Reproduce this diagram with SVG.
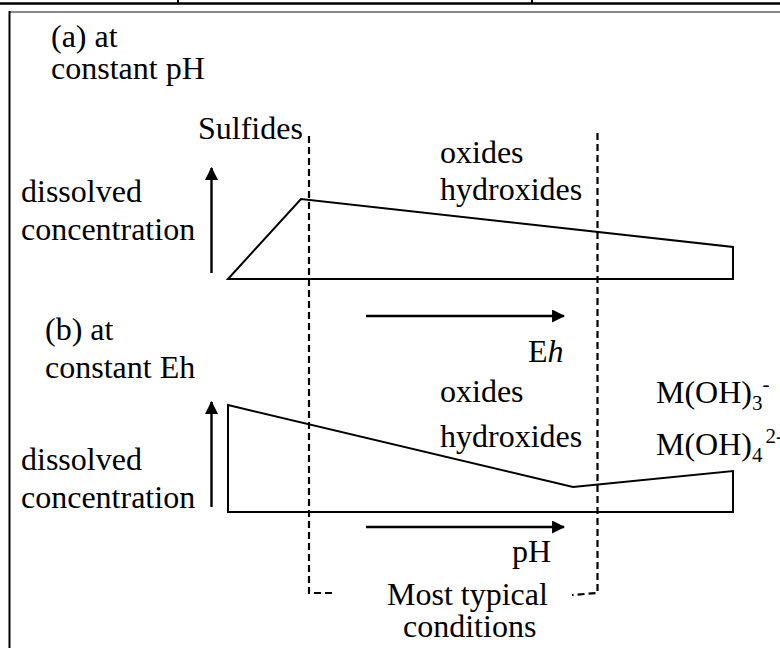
<svg xmlns="http://www.w3.org/2000/svg" width="780" height="648" viewBox="0 0 780 648">
<defs>
<style>
text{font-family:"Liberation Serif","Times New Roman",serif;font-size:32px;fill:#000}
.ln{fill:none;stroke:#000;stroke-width:2;stroke-linejoin:miter}
.ar{fill:none;stroke:#000;stroke-width:2.4}
.ds{fill:none;stroke:#000;stroke-width:2.2;stroke-dasharray:7 4}
.it{font-style:italic}
.sb{font-size:21px}
</style>
<marker id="ah" viewBox="0 0 12 12" refX="11" refY="6" markerWidth="13" markerHeight="13" markerUnits="userSpaceOnUse" orient="auto">
<path d="M0,0 L12,6 L0,12 Z" fill="#000"/>
</marker>
</defs>
<rect width="780" height="648" fill="#fff"/>
<g id="frame">
<line x1="0" y1="3.5" x2="780" y2="3.5" stroke="#000" stroke-width="2.5"/>
<line x1="178" y1="0" x2="178" y2="4" stroke="#000" stroke-width="2"/>
<line x1="532" y1="0" x2="532" y2="4" stroke="#000" stroke-width="2"/>
<line x1="9" y1="12" x2="780" y2="12" stroke="#888" stroke-width="2"/>
<line x1="9.5" y1="11" x2="9.5" y2="648" stroke="#000" stroke-width="2"/>
</g>
<g id="connectors">
<line class="ar" x1="211.5" y1="273" x2="211.5" y2="168" marker-end="url(#ah)"/>
<line class="ar" x1="211.5" y1="507" x2="211.5" y2="402" marker-end="url(#ah)"/>
<line class="ar" x1="366" y1="316" x2="564" y2="316" marker-end="url(#ah)"/>
<line class="ar" x1="366" y1="527" x2="564" y2="527" marker-end="url(#ah)"/>
<path class="ds" d="M309,136 V593 H332"/>
<path class="ds" d="M597.5,133 V593 L572,595"/>
</g>
<g id="panel-a">
<text x="51" y="47">(a) at</text>
<text x="51" y="79">constant pH</text>
<text x="21" y="202">dissolved</text>
<text x="21" y="240">concentration</text>
<text x="198" y="139">Sulfides</text>
<text x="440" y="163">oxides</text>
<text x="440" y="200">hydroxides</text>
<path class="ln" d="M228,279 L301,199 L733,247 L733,279 Z"/>
<text x="528" y="362">E<tspan class="it">h</tspan></text>
</g>
<g id="panel-b">
<text x="45" y="340">(b) at</text>
<text x="45" y="378">constant Eh</text>
<text x="21" y="470">dissolved</text>
<text x="21" y="508">concentration</text>
<text x="440" y="402">oxides</text>
<text x="440" y="447">hydroxides</text>
<text x="656" y="403">M(OH)<tspan class="sb" dy="7">3</tspan><tspan class="sb" dy="-19">-</tspan></text>
<text x="656" y="455">M(OH)<tspan class="sb" dy="7">4</tspan><tspan class="sb" dx="3" dy="-19">2-</tspan></text>
<path class="ln" d="M228,405 L573,487 L733,471 L733,512 L228,512 Z"/>
<text x="512" y="562">pH</text>
</g>
<g id="typical">
<text x="387" y="605">Most typical</text>
<text x="403" y="637">conditions</text>
</g>
</svg>
